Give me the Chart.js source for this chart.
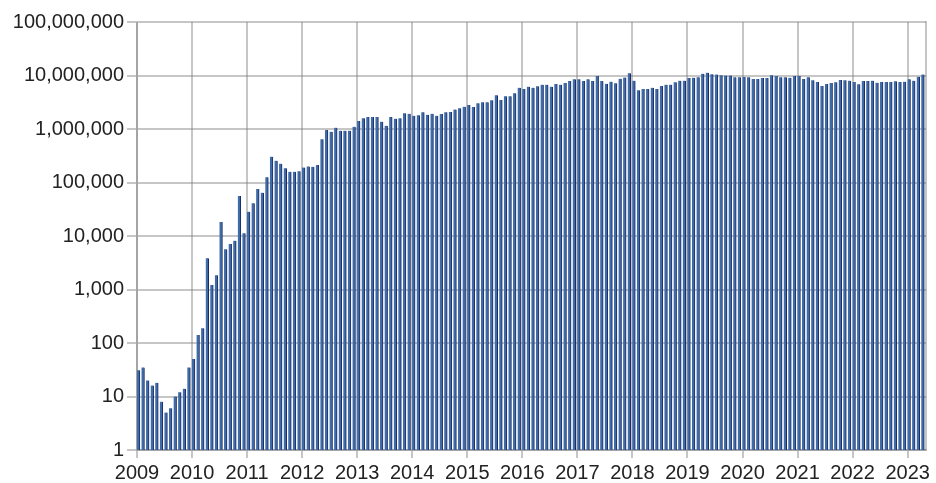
<!DOCTYPE html>
<html>
<head>
<meta charset="utf-8">
<script src="https://cdn.jsdelivr.net/npm/chart.js@4/dist/chart.umd.min.js"></script>
<style>
html,body{margin:0;padding:0;background:#fff;}
#wrap{width:936px;height:483px;position:relative;}
</style>
</head>
<body>
<div id="wrap"><canvas id="c" width="936" height="483"></canvas></div>
<script>
// ---- data ----
const startYear = 2009;
const values = [
  31, 35, 20, 16, 18, 8, 5, 6, 10, 12, 14, 35,
  50, 141, 188, 3830, 1210, 1840, 18300, 5640, 7090, 8170, 56000, 11200,
  28500, 40800, 75600, 64500, 125000, 304000, 256000, 225000, 184000, 159000, 159000, 162000,
  190000, 200000, 197000, 212000, 641000, 957000, 891000, 1060000, 931000, 930000, 930000, 1100000,
  1410000, 1590000, 1680000, 1680000, 1680000, 1370000, 1150000, 1680000, 1560000, 1590000, 1960000, 1930000,
  1770000, 1800000, 2050000, 1850000, 1930000, 1770000, 1900000, 2050000, 2080000, 2310000, 2450000, 2610000,
  2810000, 2580000, 3020000, 3150000, 3150000, 3440000, 4260000, 3480000, 4080000, 4080000, 4640000, 5910000,
  5590000, 6180000, 5910000, 6280000, 6730000, 6730000, 6180000, 6930000, 6730000, 7240000, 7890000, 8490000,
  8490000, 7890000, 8490000, 7890000, 9780000, 7900000, 7000000, 7680000, 7150000, 8710000, 9170000, 11000000,
  8000000, 5290000, 5590000, 5590000, 5910000, 5590000, 6370000, 6730000, 6730000, 7460000, 8000000, 8000000,
  8970000, 9100000, 9240000, 10800000, 11300000, 10500000, 10400000, 10100000, 9950000, 9950000, 9240000, 9240000,
  9370000, 9240000, 8600000, 8600000, 8970000, 9000000, 10100000, 9780000, 9300000, 9240000, 9050000, 9780000,
  9780000, 8600000, 9240000, 8130000, 7570000, 6370000, 6930000, 7240000, 7460000, 8240000, 8130000, 8000000,
  7570000, 6840000, 7890000, 7890000, 8000000, 7350000, 7570000, 7570000, 7570000, 7790000, 7570000, 7680000,
  8490000, 8000000, 9510000, 10400000
];
const yearLabels = ['2009','2010','2011','2012','2013','2014','2015','2016','2017','2018','2019','2020','2021','2022','2023'];
const yTickValues = [1, 10, 100, 1000, 10000, 100000, 1000000, 10000000, 100000000];
const monthsShown = 172; // Jan 2009 .. Apr 2023

// months as categories (index -> "YYYY-MM")
const months = values.map((v, i) => `${startYear + Math.floor(i / 12)}-${String(i % 12 + 1).padStart(2, '0')}`);
const points = values.map((v, i) => ({ x: i + 0.3, y: v, label: months[i] }));

const GRID = 'rgba(120,120,120,0.42)';
const TEXT = '#222';
const FONT = { family: "'Liberation Sans', Arial, sans-serif", size: 20 };

const rightBorder = {
  id: 'rightBorder',
  afterDatasetsDraw(chart) {
    const { ctx, chartArea } = chart;
    ctx.save();
    ctx.strokeStyle = GRID;
    ctx.lineWidth = 2;
    ctx.beginPath();
    ctx.moveTo(chartArea.right, chartArea.top - 1);
    ctx.lineTo(chartArea.right, chartArea.bottom);
    ctx.stroke();
    ctx.restore();
  }
};

new Chart(document.getElementById('c'), {
  type: 'bar',
  data: {
    datasets: [{
      data: points,
      backgroundColor: '#3f6ca8',
      borderColor: '#1b2a66',
      borderWidth: { left: 0, right: 1, top: 0, bottom: 0 },
      borderSkipped: false,
      barThickness: 3
    }]
  },
  options: {
    responsive: false,
    animation: false,
    layout: { padding: { top: 22, right: 10, left: 0, bottom: 0 } },
    plugins: { legend: { display: false }, tooltip: { enabled: false } },
    scales: {
      x: {
        type: 'linear',
        min: 0,
        max: monthsShown,
        offset: false,
        z: 1,
        afterBuildTicks(scale) {
          scale.ticks = yearLabels.map((l, i) => ({ value: i * 12 }));
        },
        afterFit(scale) { scale.height = 33; },
        ticks: {
          autoSkip: false,
          maxRotation: 0,
          padding: 3,
          color: TEXT,
          font: FONT,
          callback: (v) => yearLabels[Math.round(v / 12)]
        },
        grid: { offset: false, color: GRID, lineWidth: 2, tickLength: 8, drawTicks: true },
        border: { display: true, color: GRID, width: 2 }
      },
      y: {
        type: 'logarithmic',
        min: 1,
        max: 100000000,
        z: 1,
        afterBuildTicks(scale) {
          scale.ticks = yTickValues.map(v => ({ value: v }));
        },
        afterFit(scale) { scale.width = 137; },
        ticks: {
          autoSkip: false,
          padding: 3,
          color: TEXT,
          font: FONT,
          callback: (v) => Number(v).toLocaleString('en-US')
        },
        grid: { color: GRID, lineWidth: 2, tickLength: 10, drawTicks: true },
        border: { display: true, color: GRID, width: 2 }
      }
    }
  },
  plugins: [rightBorder]
});
</script>
</body>
</html>
